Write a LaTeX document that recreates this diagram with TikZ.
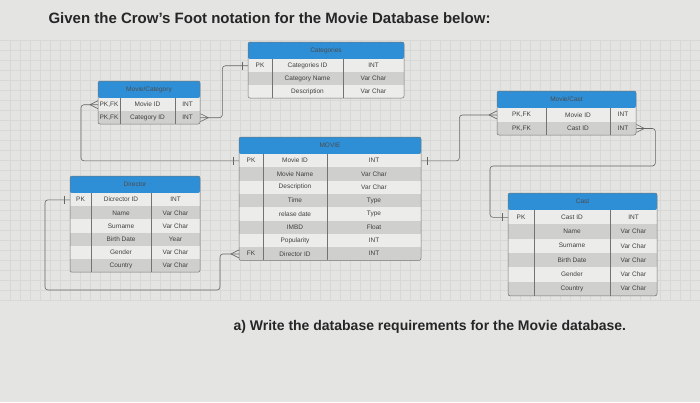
\documentclass[tikz,border=0pt]{standalone}
\usepackage{fontspec}
\setmainfont{Liberation Sans}
\begin{document}
\begin{tikzpicture}[x=1pt,y=-1pt,
  cell/.style={font=\fontsize{6.5}{7}\selectfont,text=black!75},
  conn/.style={draw=black!60,line width=0.6pt,rounded corners=3pt}]
\definecolor{bg}{HTML}{E4E4E2}
\definecolor{hdrblue}{HTML}{2F8FD6}
\definecolor{rowgrey}{HTML}{CFCFCD}
\definecolor{rowlight}{HTML}{ECECEA}
\fill[bg] (0,0) rectangle (700,402);
\useasboundingbox (0,0) rectangle (700,402);
\foreach \g in {10,20,...,690} \draw[bg!95!black,line width=0.25pt] (\g,40) -- (\g,300);
\foreach \g in {40,50,...,300} \draw[bg!95!black,line width=0.25pt] (0,\g) -- (700,\g);
\newcommand\ertable[9]{%
  \fill[hdrblue,rounded corners=2pt] (#2,#6) rectangle (#5,#6+17);
  \node[cell,text=black!70] (#1-h) at ({(#2+#5)/2},#6+8.5) {#8};
  \foreach \a/\b/\c [count=\i] in {#9} {
    \pgfmathsetmacro\yy{#6+17+(\i-1)*#7}
    \pgfmathsetmacro\yb{\yy+#7}
    \pgfmathsetmacro\ym{\yy+#7/2}
    \pgfmathparse{isodd(\i)?"rowlight":"rowgrey"}
    \edef\rc{\pgfmathresult}
    \fill[\rc] (#2,\yy) rectangle (#5,\yb);
    \node[inner sep=0pt,minimum width={(#5)-(#2)},minimum height={#7},anchor=north west] (#1-\i) at (#2,\yy) {};
    \node[cell] at ({(#2+#3)/2},\ym) {\a};
    \node[cell] at ({(#3+#4)/2},\ym) {\b};
    \node[cell] at ({(#4+#5)/2},\ym) {\c};
    \xdef\ylast{\yb}
  }
  \draw[black!55,line width=0.5pt,rounded corners=2pt] (#2,#6) rectangle (#5,\ylast);
  \draw[black!55,line width=0.4pt] (#3,#6+17) -- (#3,\ylast) (#4,#6+17) -- (#4,\ylast);
}
\newcommand\crowW[1]{\draw[black!60,line width=0.6pt] (#1) ++(-8,0) -- ++(8,-4) (#1) ++(-8,0) -- ++(8,4);}
\newcommand\crowE[1]{\draw[black!60,line width=0.6pt] (#1) ++(8,0) -- ++(-8,-4) (#1) ++(8,0) -- ++(-8,4);}
\newcommand\barW[1]{\draw[black!60,line width=0.6pt] (#1) ++(-6,-4) -- ++(0,8);}
\newcommand\barE[1]{\draw[black!60,line width=0.6pt] (#1) ++(6,-4) -- ++(0,8);}

\node[anchor=west,font=\fontsize{15}{17}\selectfont\bfseries,text=black!85] (title) at (45,18) {Given the Crow’s Foot notation for the Movie Database below:};
\node[anchor=west,font=\fontsize{14}{16}\selectfont\bfseries,text=black!85] (q) at (230,327) {a) Write the database requirements for the Movie database.};

\ertable{cat}{248}{272}{343}{404}{42}{13}{Categories}{PK/Categories ID/INT, /Category Name/Var Char, /Description/Var Char}
\ertable{mc}{98}{120}{175}{200}{81}{13}{Movie/Category}{{PK,FK}/Movie ID/INT, {PK,FK}/Category ID/INT}
\ertable{mv}{239}{263}{327}{421}{137}{13.3}{MOVIE}{PK/Movie ID/INT, /Movie Name/Var Char, /Description/Var Char, /Time/Type, /relase date/Type, /IMBD/Float, /Popularity/INT, FK/Director ID/INT}
\ertable{dir}{70}{91}{151}{200}{176}{13.2}{Director}{PK/Dicrector ID/INT, /Name/Var Char, /Surname/Var Char, /Birth Date/Year, /Gender/Var Char, /Country/Var Char}
\ertable{mcs}{497}{546}{610}{636}{91}{13.5}{Movie/Cast}{{PK,FK}/Movie ID/INT, {PK,FK}/Cast ID/INT}
\ertable{cs}{508}{534}{610}{657}{193}{14.3}{Cast}{PK/Cast ID/INT, /Name/Var Char, /Surname/Var Char, /Birth Date/Var Char, /Gender/Var Char, /Country/Var Char}

% connectors
\draw[conn] (mc-1.west) -- ++(-17,0) |- (mv-1.west);
\crowW{mc-1.west} \barW{mv-1.west}
\draw[conn] (mc-2.east) -- ++(22,0) |- (cat-1.west);
\crowE{mc-2.east} \barW{cat-1.west}
\draw[conn] (mv-1.east) -- ++(38,0) |- (mcs-1.west);
\barE{mv-1.east} \crowW{mcs-1.west}
\draw[conn] (mcs-2.east) -- ++(19,0) |- (490,166) |- (cs-1.west);
\crowE{mcs-2.east} \barW{cs-1.west}
\draw[conn] (mv-8.west) -- ++(-19,0) |- (45,290) |- (dir-1.west);
\crowW{mv-8.west} \barW{dir-1.west}
\end{tikzpicture}
\end{document}
